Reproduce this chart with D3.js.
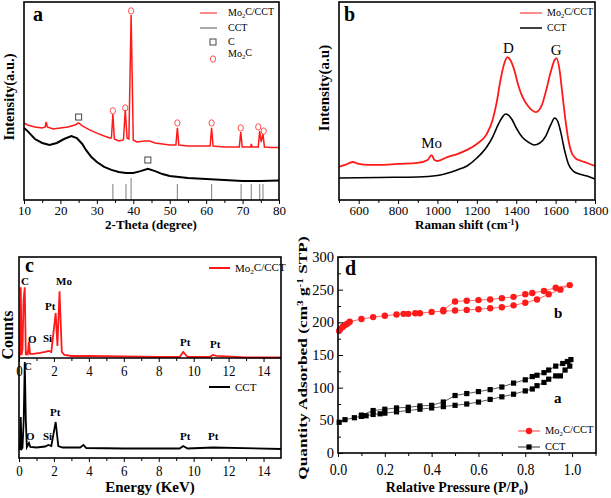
<!DOCTYPE html>
<html><head><meta charset="utf-8">
<script src="https://cdn.jsdelivr.net/npm/d3@7"></script>
<style>
body{margin:0;background:#fff}
svg text{font-family:"Liberation Serif","Tinos","Times New Roman","Nimbus Roman","DejaVu Serif","Noto Serif",serif !important;fill:#000}
</style>
</head><body>
<svg id="chart" width="611" height="498" font-family="Liberation Serif, DejaVu Serif, serif"></svg>
<script>
// ---------- Panel a : XRD ----------
const xrdRedTheta = [10,11,13,15,15.8,16.1,16.4,18,20,22,24,25,26,28,30,32,33.5,34.0,34.4,34.8,36,37.3,37.8,38.3,38.8,39.4,40.0,41,43,44.5,46,48,50,51.7,52.1,52.5,55,58,61.1,61.5,61.9,65,69.1,69.5,69.9,72.2,72.4,72.6,74.3,74.7,75.1,75.6,76.0,78,80];
const xrdRedI     = [38.9,37.9,36.9,36.4,36.9,39.4,36.9,35.9,36.4,36.9,37.9,38.9,37.4,35.4,33.8,32.3,31.3,31.3,43.4,30.8,29.8,30.3,45.5,31.3,30.8,93.4,30.3,29.3,29.8,29.8,28.8,28.3,27.8,27.8,36.4,27.8,27.3,27.3,27.3,36.4,27.3,26.8,26.8,34.3,26.8,26.8,28.3,26.8,26.8,34.8,29.3,33.3,26.8,26.5,26.5];
const xrdBlackTheta = [10,11,12,13,15,17,19,21,23,24.5,26,27,28.5,30,32,34,36,38,40,42,44,46,48,50,55,60,65,70,75,80];
const xrdBlackI     = [36.4,34.8,32.8,30.8,28.8,27.8,28.8,30.8,32.3,31.3,28.3,25.3,21.7,19.2,16.7,15.2,14.1,13.6,13.6,14.6,15.7,14.6,13.1,12.1,11.1,10.6,10.1,9.6,9.6,9.8];
const refPeaks = [34.4,38.0,39.4,52.1,61.5,69.6,72.4,74.7,75.6];
const refHeights = [8.1,8.1,11.1,8.1,8.1,8.1,8.1,8.1,8.1];
const cMarkTheta = [25,44];
const cMarkI = [41.9,20.2];
const moMarkTheta = [34.4,37.8,39.4,52.1,61.5,69.5,74.3,75.8];
const moMarkI = [45,46.5,95.5,38.9,38.9,36.4,36.9,34.8];
const xrdTicks = [10,20,30,40,50,60,70,80];

// ---------- Panel b : Raman ----------
const ramRedX = [500,530,570,600,650,700,800,900,950,970,985,1000,1050,1100,1150,1200,1250,1280,1300,1320,1340,1355,1370,1390,1410,1430,1460,1500,1530,1555,1575,1595,1605,1620,1635,1650,1665,1680,1700,1730,1760,1800];
const ramRedI = [16.7,17.7,19.2,18.2,17.7,17.7,18.2,18.7,20.2,22.7,20.2,19.7,21.7,23.2,25.3,28.3,33.3,40.4,48.9,60.6,69.2,72.2,70.7,65.7,58.1,52.5,47.5,44.4,47.9,56.6,64.6,70.7,71.7,65.7,53,40.4,30.3,24.2,21.2,19.7,18.7,17.2];
const ramBlackX = [500,700,900,1000,1100,1150,1200,1250,1280,1310,1330,1345,1360,1380,1400,1430,1460,1490,1520,1550,1575,1595,1610,1625,1645,1665,1690,1720,1760,1800];
const ramBlackI = [11.1,11.4,11.6,12.4,15.2,17.2,21.2,26.8,31.8,38.4,41.9,43.4,42.9,40.4,36.4,31.8,29.3,27.8,28.8,32.3,37.9,41.4,39.9,34.8,25.3,18.2,14.6,13.1,12.1,10.6];
const ramTicks = [600,800,1000,1200,1400,1600,1800];

// ---------- Panel c : EDS ----------
const edsRedE = [0.0,0.05,0.1,0.15,0.2,0.26,0.33,0.39,0.45,0.5,0.57,0.63,0.8,1.2,1.5,1.68,1.85,2.1,2.2,2.32,2.45,2.6,3,4,6,8,9.2,9.4,9.65,10.9,11.1,11.3,13,15];
const edsRedC = [1,3,70,3,8,57,70,3,5,4,16,4,4,5,6,7,6,44.6,12,66,6,3,2,2,1.5,1,1,6,1,1,3,2,0.5,0.5];
const edsBlackE = [0.0,0.05,0.1,0.15,0.2,0.27,0.33,0.39,0.45,0.57,0.65,1.0,1.5,1.68,1.85,2.1,2.25,2.5,3.5,3.69,3.85,6,9.2,9.4,9.65,11.1,15];
const edsBlackC = [9,9,41,9,10,38,96,38,11,15,11,10.5,11.5,13,12,36,12,10.5,10.5,13,10,9.5,9.5,12,9.5,10.5,9];
const edsTicks = [0,2,4,6,8,10,12,14];

// ---------- Panel d : N2 isotherms ----------
const isoRedP = [0.005,0.01,0.02,0.03,0.04,0.05,0.1,0.15,0.2,0.25,0.28,0.3,0.33,0.35,0.4,0.45,0.5,0.55,0.6,0.65,0.7,0.75,0.8,0.85,0.9,0.95,0.99,0.93,0.88,0.83,0.8,0.75,0.7,0.65,0.6,0.55,0.5,0.45];
const isoRedQ = [187,190,193,196,198,201,205,208,210,212,213,213,214,214,216,217,218,219,220,221.5,223,226,230,235,243,250,257,253,248,245,243,239,237,235,234,233,232,219];
const isoBlackP = [0.005,0.03,0.07,0.1,0.12,0.15,0.18,0.2,0.25,0.3,0.35,0.4,0.45,0.5,0.55,0.6,0.65,0.7,0.75,0.8,0.83,0.85,0.88,0.9,0.93,0.95,0.97,0.99,0.995,0.98,0.96,0.93,0.9,0.88,0.85,0.83,0.8,0.75,0.7,0.65,0.6,0.55,0.5,0.45,0.4,0.35,0.3,0.25,0.2,0.15,0.1];
const isoBlackQ = [47,51,54,56,57,59,60,61,63,65,67,69,71,73,75,78,82,86,90,95,98,103,108,113,118,118,127,133,143,140,137,133,127,123,119,117,112,107,101,97,94,91,88,78,73,72,70,69,67,65,58];
const isoXTicks = [0,0.2,0.4,0.6,0.8,1.0];
const isoYTicks = [0,50,100,150,200,250,300];

const RED = "#ff1a1a";
const svg = d3.select("#chart");

function frame(x0,x1,y0,y1){
  svg.append("rect").attr("x",x0).attr("y",y0).attr("width",x1-x0).attr("height",y1-y0)
    .attr("fill","none").attr("stroke","#000").attr("stroke-width",1.6);
}
function bottomAxis(scale, y, major, minor, fs, fmt, pad, stretch){
  const gMin = svg.append("g").attr("transform",`translate(0,${y})`)
    .call(d3.axisBottom(scale).tickValues(minor).tickSize(3).tickFormat(""));
  gMin.select(".domain").remove();
  const g = svg.append("g").attr("transform",`translate(0,${y})`)
    .call(d3.axisBottom(scale).tickValues(major).tickSize(4).tickPadding(pad===undefined?2:pad).tickFormat(fmt||(d=>d)));
  g.select(".domain").remove();
  g.selectAll("text").attr("font-size",fs).attr("fill","#000");
  if(stretch) g.selectAll("text").attr("transform",`scale(1,${stretch})`);
  g.selectAll("line").attr("stroke","#000");
  gMin.selectAll("line").attr("stroke","#000");
  return g;
}
function vlabel(x,y,txt,fs,sx){
  return svg.append("text").attr("transform",`translate(${x},${y}) rotate(-90) scale(${sx||1},1)`)
    .attr("text-anchor","middle").attr("font-weight","bold").attr("font-size",fs).text(txt);
}
function subText(sel, parts){
  parts.forEach(p=>{
    if(p[1]==="sub") sel.append("tspan").attr("font-size","0.65em").attr("dy","0.3em").text(p[0]);
    else if(p[1]==="sup") sel.append("tspan").attr("font-size","0.65em").attr("dy","-0.5em").text(p[0]);
    else if(p[1]==="back") sel.append("tspan").attr("dy",p[2]).text(p[0]);
    else sel.append("tspan").text(p[0]);
  });
  return sel;
}

// ================= Panel a =================
{
  const x = d3.scaleLinear([10,80],[24,279]);
  const y = d3.scaleLinear([0,100],[200,2]);
  const line = d3.line().x(d=>x(d[0])).y(d=>y(d[1]));
  svg.append("path").datum(xrdBlackTheta.map((t,i)=>[t,xrdBlackI[i]])).attr("d",line)
    .attr("fill","none").attr("stroke","#000").attr("stroke-width",2);
  svg.append("path").datum(xrdRedTheta.map((t,i)=>[t,xrdRedI[i]])).attr("d",line)
    .attr("fill","none").attr("stroke",RED).attr("stroke-width",1.5);
  svg.selectAll(".ref").data(refPeaks).enter().append("line")
    .attr("x1",d=>x(d)).attr("x2",d=>x(d)).attr("y1",y(0)).attr("y2",(d,i)=>y(refHeights[i]))
    .attr("stroke","#888").attr("stroke-width",1.1);
  svg.selectAll(".cm").data(cMarkTheta).enter().append("rect")
    .attr("x",(d)=>x(d)-3).attr("y",(d,i)=>y(cMarkI[i])-3).attr("width",6).attr("height",6)
    .attr("fill","none").attr("stroke","#444").attr("stroke-width",1);
  svg.selectAll(".mm").data(moMarkTheta).enter().append("ellipse")
    .attr("cx",d=>x(d)).attr("cy",(d,i)=>y(moMarkI[i])).attr("rx",2.6).attr("ry",3.2)
    .attr("fill","none").attr("stroke","#ff5050").attr("stroke-width",1);
  frame(24,279,2,200);
  bottomAxis(x,200,xrdTicks,d3.range(15,80,10),"13px");
  svg.append("text").attr("x",151).attr("y",229).attr("text-anchor","middle")
    .attr("font-weight","bold").attr("font-size","13px").text("2-Theta (degree)");
  vlabel(14,97,"Intensity(a.u.)","14.5px");
  svg.append("text").attr("x",33).attr("y",21).attr("font-weight","bold").attr("font-size","20px").text("a");
  svg.append("line").attr("x1",200).attr("x2",217).attr("y1",13).attr("y2",13).attr("stroke",RED).attr("stroke-width",1);
  subText(svg.append("text").attr("x",228).attr("y",16).attr("font-size","10px"),[["Mo"],["2","sub"],["C/CCT","back","-0.3em"]]);
  svg.append("line").attr("x1",200).attr("x2",217).attr("y1",28).attr("y2",28).attr("stroke","#555").attr("stroke-width",1);
  svg.append("text").attr("x",228).attr("y",31).attr("font-size","10px").text("CCT");
  svg.append("rect").attr("x",210).attr("y",39).attr("width",6).attr("height",6).attr("fill","none").attr("stroke","#444");
  svg.append("text").attr("x",228).attr("y",45).attr("font-size","10px").text("C");
  svg.append("ellipse").attr("cx",213).attr("cy",59).attr("rx",2.6).attr("ry",3.2).attr("fill","none").attr("stroke","#ff5050");
  subText(svg.append("text").attr("x",228).attr("y",57).attr("font-size","10px"),[["Mo"],["2","sub"],["C","back","-0.3em"]]);
}

// ================= Panel b =================
{
  const x = d3.scaleLinear([500,1800],[339,595]);
  const y = d3.scaleLinear([0,100],[200,2]);
  const line = d3.line().x(d=>x(d[0])).y(d=>y(d[1])).curve(d3.curveMonotoneX);
  svg.append("path").datum(ramBlackX.map((t,i)=>[t,ramBlackI[i]])).attr("d",line)
    .attr("fill","none").attr("stroke","#000").attr("stroke-width",1.6);
  svg.append("path").datum(ramRedX.map((t,i)=>[t,ramRedI[i]])).attr("d",line)
    .attr("fill","none").attr("stroke",RED).attr("stroke-width",1.8);
  frame(339,595,2,200);
  bottomAxis(x,200,ramTicks,[500,700,900,1100,1300,1500,1700],"13px");
  const t = svg.append("text").attr("x",467).attr("y",229).attr("text-anchor","middle")
    .attr("font-weight","bold").attr("font-size","13px");
  subText(t,[["Raman shift (cm"],["-1","sup"],[")","back","0.33em"]]);
  vlabel(329,88,"Intensity(a.u)","15px");
  svg.append("text").attr("x",344).attr("y",21).attr("font-weight","bold").attr("font-size","20px").text("b");
  svg.append("text").attr("x",x(970)).attr("y",148).attr("text-anchor","middle").attr("font-size","15px").text("Mo");
  svg.append("text").attr("x",x(1360)).attr("y",53).attr("text-anchor","middle").attr("font-size","15px").text("D");
  svg.append("text").attr("x",x(1603)).attr("y",55).attr("text-anchor","middle").attr("font-size","15px").text("G");
  svg.append("line").attr("x1",520).attr("x2",542).attr("y1",13).attr("y2",13).attr("stroke",RED).attr("stroke-width",1);
  subText(svg.append("text").attr("x",547).attr("y",16).attr("font-size","10px"),[["Mo"],["2","sub"],["C/CCT","back","-0.3em"]]);
  svg.append("line").attr("x1",520).attr("x2",542).attr("y1",28).attr("y2",28).attr("stroke","#000").attr("stroke-width",1.5);
  svg.append("text").attr("x",547).attr("y",31).attr("font-size","10px").text("CCT");
}

// ================= Panel c =================
{
  const x = d3.scaleLinear([0,15],[19,281]);
  const yU = d3.scaleLinear([0,100],[358,257]);
  const yL = d3.scaleLinear([0,100],[458,358]);
  svg.append("path").datum(edsRedE.map((e,i)=>[e,edsRedC[i]]))
    .attr("d",d3.line().x(d=>x(d[0])).y(d=>yU(d[1])))
    .attr("fill","none").attr("stroke",RED).attr("stroke-width",1.8);
  svg.append("path").datum(edsBlackE.map((e,i)=>[e,edsBlackC[i]]))
    .attr("d",d3.line().x(d=>x(d[0])).y(d=>yL(d[1])))
    .attr("fill","none").attr("stroke","#000").attr("stroke-width",1.8);
  frame(19,281,257,458);
  svg.append("line").attr("x1",19).attr("x2",281).attr("y1",358).attr("y2",358).attr("stroke","#000").attr("stroke-width",1.6);
  const minor = d3.range(1,15,2);
  bottomAxis(x,358,edsTicks,minor,"13px",null,2,1.2);
  bottomAxis(x,458,edsTicks,minor,"13px",null,2,1.2);
  svg.append("text").attr("x",150).attr("y",492).attr("text-anchor","middle")
    .attr("font-weight","bold").attr("font-size","15px").text("Energy (KeV)");
  vlabel(13,335,"Counts","16px");
  svg.append("text").attr("x",25).attr("y",272).attr("font-weight","bold").attr("font-size","20px").text("c");
  const lab = (t,xx,yy)=>svg.append("text").attr("x",xx).attr("y",yy).attr("font-weight","bold").attr("font-size","11px").text(t);
  lab("C",21,285); lab("O",28,343); lab("Si",43,342); lab("Pt",45,310); lab("Mo",56,285); lab("Pt",180,346); lab("Pt",210,348);
  lab("C",24,370); lab("O",26,440); lab("Si",43,440); lab("Pt",50,416); lab("Pt",180,440); lab("Pt",208,440);
  svg.append("line").attr("x1",209).attr("x2",230).attr("y1",268).attr("y2",268).attr("stroke",RED).attr("stroke-width",2);
  subText(svg.append("text").attr("x",235).attr("y",272).attr("font-size","11px"),[["Mo"],["2","sub"],["C/CCT","back","-0.3em"]]);
  svg.append("line").attr("x1",209).attr("x2",230).attr("y1",387).attr("y2",387).attr("stroke","#000").attr("stroke-width",2);
  svg.append("text").attr("x",235).attr("y",391).attr("font-size","11px").text("CCT");
}

// ================= Panel d =================
{
  const x = d3.scaleLinear([0,1.1],[338,595.5]);
  const y = d3.scaleLinear([0,300],[453,257]);
  const line = d3.line().x(d=>x(d[0])).y(d=>y(d[1]));
  const blk = isoBlackP.map((p,i)=>[p,isoBlackQ[i]]);
  const red = isoRedP.map((p,i)=>[p,isoRedQ[i]]);
  svg.append("path").datum(blk).attr("d",line).attr("fill","none").attr("stroke","#333").attr("stroke-width",0.8);
  svg.selectAll(".bs").data(blk).enter().append("rect")
    .attr("x",d=>x(d[0])-2.6).attr("y",d=>y(d[1])-2.6).attr("width",5.2).attr("height",5.2).attr("fill","#000");
  svg.append("path").datum(red).attr("d",line).attr("fill","none").attr("stroke","#ff4040").attr("stroke-width",0.8);
  svg.selectAll(".rc").data(red).enter().append("circle")
    .attr("cx",d=>x(d[0])).attr("cy",d=>y(d[1])).attr("r",3.2).attr("fill",RED);
  frame(338,596,257,453);
  bottomAxis(x,453,isoXTicks,[0.1,0.3,0.5,0.7,0.9,1.1],"14px",d3.format(".1f"),5,1.15);
  const gyMin = svg.append("g").attr("transform","translate(338,0)")
    .call(d3.axisRight(y).tickValues([25,75,125,175,225,275]).tickSize(3).tickFormat(""));
  gyMin.select(".domain").remove();
  const gy = svg.append("g").attr("transform","translate(338,0)")
    .call(d3.axisLeft(y).tickValues(isoYTicks).tickSize(-5).tickPadding(4));
  gy.select(".domain").remove();
  gy.selectAll("text").attr("font-size","14.5px").attr("fill","#000");
  gy.selectAll("line").attr("stroke","#000"); gyMin.selectAll("line").attr("stroke","#000");
  const t = svg.append("text").attr("x",457).attr("y",492).attr("text-anchor","middle")
    .attr("font-weight","bold").attr("font-size","14px");
  subText(t,[["Relative Pressure (P/P"],["0","sub"],[")","back","-0.3em"]]);
  const yl = svg.append("text").attr("transform","translate(307,358) rotate(-90) scale(1.28,1)")
    .attr("text-anchor","middle").attr("font-weight","bold").attr("font-size","13.5px");
  subText(yl,[["Quantity Adsorbed (cm"],["3","sup"],[" g","back","0.33em"],["-1","sup"],[" STP)","back","0.33em"]]);
  svg.append("text").attr("x",345).attr("y",275).attr("font-weight","bold").attr("font-size","20px").text("d");
  svg.append("text").attr("x",554).attr("y",318).attr("font-weight","bold").attr("font-size","15px").text("b");
  svg.append("text").attr("x",554).attr("y",403).attr("font-weight","bold").attr("font-size","15px").text("a");
  svg.append("line").attr("x1",518).attr("x2",540).attr("y1",431).attr("y2",431).attr("stroke","#ff4040").attr("stroke-width",1);
  svg.append("circle").attr("cx",529).attr("cy",431).attr("r",3.2).attr("fill",RED);
  subText(svg.append("text").attr("x",545).attr("y",434).attr("font-size","10.5px"),[["Mo"],["2","sub"],["C/CCT","back","-0.3em"]]);
  svg.append("line").attr("x1",518).attr("x2",540).attr("y1",447).attr("y2",447).attr("stroke","#333").attr("stroke-width",1);
  svg.append("rect").attr("x",526.4).attr("y",444.4).attr("width",5.2).attr("height",5.2).attr("fill","#000");
  svg.append("text").attr("x",545).attr("y",450).attr("font-size","10.5px").text("CCT");
}
</script>
</body></html>
